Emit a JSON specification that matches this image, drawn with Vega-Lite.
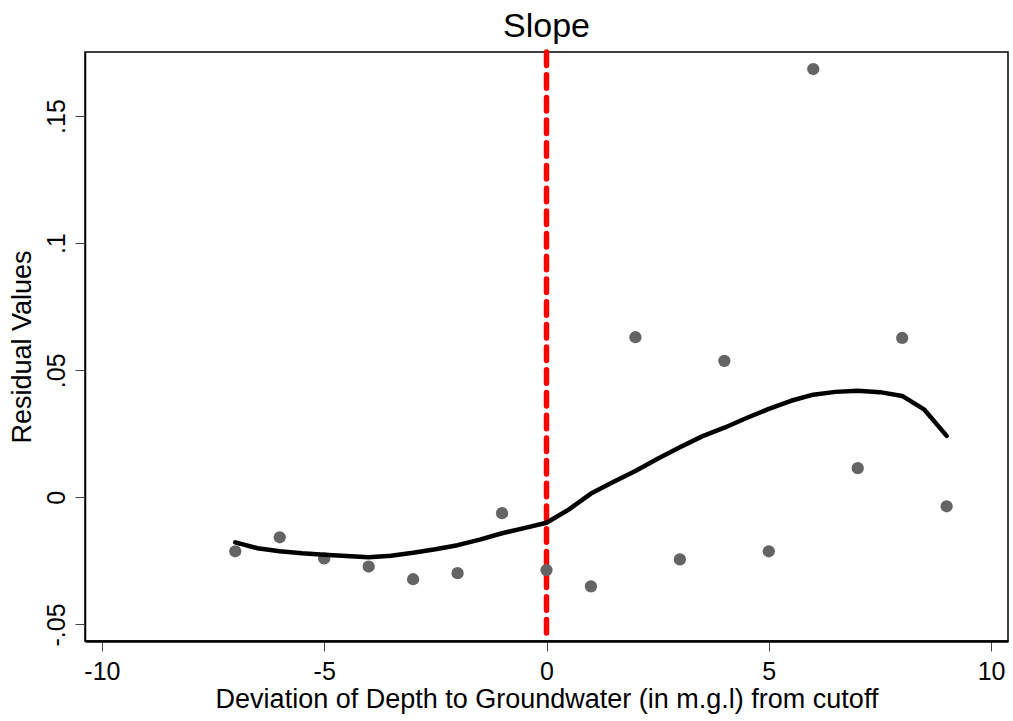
{
  "$schema": "https://vega.github.io/schema/vega-lite/v6.json",
  "autosize": {"type": "none"},
  "padding": {"left": 85, "top": 52, "right": 5, "bottom": 80},
  "width": 923,
  "height": 589,
  "background": "white",
  "title": {"text": "Slope", "fontSize": 34, "font": "Liberation Sans", "fontWeight": "normal", "color": "black", "anchor": "middle", "offset": 5},
  "config": {
    "view": {"stroke": "black", "strokeWidth": 1.5},
    "axis": {"grid": false, "labelFont": "Liberation Sans", "titleFont": "Liberation Sans", "labelColor": "black", "titleColor": "black", "titleFontWeight": "normal", "domainColor": "black", "tickColor": "#444444", "tickWidth": 1, "tickSize": 10, "labelFontSize": 25, "titleFontSize": 27}
  },
  "datasets": {
    "pts": [
      {"x": -7, "y": -0.0212}, {"x": -6, "y": -0.0157}, {"x": -5, "y": -0.0240}, {"x": -4, "y": -0.0272},
      {"x": -3, "y": -0.0322}, {"x": -2, "y": -0.0298}, {"x": -1, "y": -0.0062}, {"x": 0, "y": -0.0286},
      {"x": 1, "y": -0.0350}, {"x": 2, "y": 0.0630}, {"x": 3, "y": -0.0244}, {"x": 4, "y": 0.0537},
      {"x": 5, "y": -0.0212}, {"x": 6, "y": 0.1685}, {"x": 7, "y": 0.0115}, {"x": 8, "y": 0.0627}, {"x": 9, "y": -0.0035}
    ],
    "smooth": [
      {"x": -7, "y": -0.0177}, {"x": -6.5, "y": -0.0200}, {"x": -6, "y": -0.0212}, {"x": -5.5, "y": -0.0220},
      {"x": -5, "y": -0.0226}, {"x": -4.5, "y": -0.0231}, {"x": -4, "y": -0.0236}, {"x": -3.5, "y": -0.0230},
      {"x": -3, "y": -0.0218}, {"x": -2.5, "y": -0.0204}, {"x": -2, "y": -0.0188}, {"x": -1.5, "y": -0.0166},
      {"x": -1, "y": -0.0141}, {"x": -0.5, "y": -0.0121}, {"x": 0, "y": -0.0100}, {"x": 0.5, "y": -0.0048},
      {"x": 1, "y": 0.0015}, {"x": 1.5, "y": 0.0060}, {"x": 2, "y": 0.0104}, {"x": 2.5, "y": 0.0152},
      {"x": 3, "y": 0.0197}, {"x": 3.5, "y": 0.0240}, {"x": 4, "y": 0.0274}, {"x": 4.5, "y": 0.0312},
      {"x": 5, "y": 0.0348}, {"x": 5.5, "y": 0.0380}, {"x": 6, "y": 0.0404}, {"x": 6.5, "y": 0.0415},
      {"x": 7, "y": 0.0419}, {"x": 7.5, "y": 0.0414}, {"x": 8, "y": 0.0399}, {"x": 8.5, "y": 0.0345},
      {"x": 9, "y": 0.0242}
    ],
    "cut": [{"x": 0}]
  },
  "layer": [
    {
      "data": {"name": "cut"},
      "mark": {"type": "rule", "color": "#ff0000", "strokeWidth": 5.5, "strokeDash": [13.5, 9.2], "strokeCap": "round"},
      "encoding": {
        "x": {"field": "x", "type": "quantitative"}
      }
    },
    {
      "data": {"name": "pts"},
      "mark": {"type": "circle", "color": "#646464", "size": 150, "opacity": 1},
      "encoding": {
        "x": {"field": "x", "type": "quantitative",
          "scale": {"domain": [-10.38, 10.38], "nice": false, "zero": false},
          "axis": {"values": [-10, -5, 0, 5, 10], "labelExpr": "'' + datum.value", "title": "Deviation of Depth to Groundwater (in m.g.l) from cutoff", "titleFontSize": 27, "labelPadding": 8, "titlePadding": 2, "domainWidth": 2.5}},
        "y": {"field": "y", "type": "quantitative",
          "scale": {"domain": [-0.0565, 0.1752], "nice": false, "zero": false},
          "axis": {"values": [-0.05, 0, 0.05, 0.1, 0.15], "labelExpr": "datum.value < -0.01 ? '-.05' : datum.value < 0.01 ? '0' : datum.value < 0.07 ? '.05' : datum.value < 0.12 ? '.1' : '.15'", "labelAngle": -90, "labelAlign": "center", "labelBaseline": "alphabetic", "labelPadding": 11, "title": "Residual Values", "titlePadding": 8, "domainWidth": 1.5}}
      }
    },
    {
      "data": {"name": "smooth"},
      "mark": {"type": "line", "color": "black", "strokeWidth": 4.5, "strokeCap": "round", "strokeJoin": "round"},
      "encoding": {
        "x": {"field": "x", "type": "quantitative"},
        "y": {"field": "y", "type": "quantitative"}
      }
    }
  ]
}
